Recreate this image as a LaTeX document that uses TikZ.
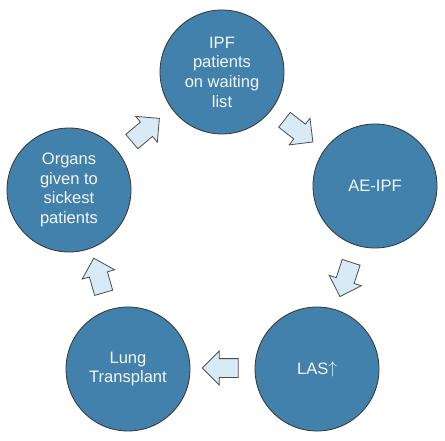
\documentclass[tikz,border=0pt]{standalone}
\usepackage{fontspec}
\setmainfont{Liberation Sans}
\usepackage{tikz}
\usetikzlibrary{positioning,shapes,arrows}
\definecolor{stepblue}{RGB}{66,129,171}
\definecolor{arrowblue}{RGB}{216,234,246}

\begin{document}
\begin{tikzpicture}[
x=1bp, y=1bp,
stage/.style={circle, draw=black!80, thick, fill=stepblue, text=white!94!stepblue, minimum size=124bp, inner sep=0pt, align=center, font=\fontsize{16.6}{19.8}\selectfont},
flow/.style={single arrow, draw=black!70, thick, fill=arrowblue, minimum height=36bp, inner xsep=0pt, inner ysep=9bp, single arrow head extend=7.5bp},
]
\useasboundingbox (0,0) rectangle (445,-441);

%Stages
\node[stage] (ipf)     at (222,  -72) {IPF\\patients\\on waiting\\list};
\node[stage] (ae)      at (375, -186) {AE-IPF};
\node[stage] (las)     at (317, -369) {LAS\raisebox{1.5bp}{$\uparrow$}};
\node[stage] (lung)    at (128, -369) {Lung\\Transplant};
\node[stage] (organs)  at ( 69, -190) {Organs\\given to\\sickest\\patients};

%Arrows between stages
\node[flow, rotate=40]   (a1) at (142, -133) {};
\node[flow, rotate=-38]  (a2) at (295, -128) {};
\node[flow, rotate=-108] (a3) at (347, -275) {};
\node[flow, rotate=180]  (a4) at (225, -368) {};
\node[flow, rotate=106]  (a5) at (100, -280) {};
\end{tikzpicture}
\end{document}
